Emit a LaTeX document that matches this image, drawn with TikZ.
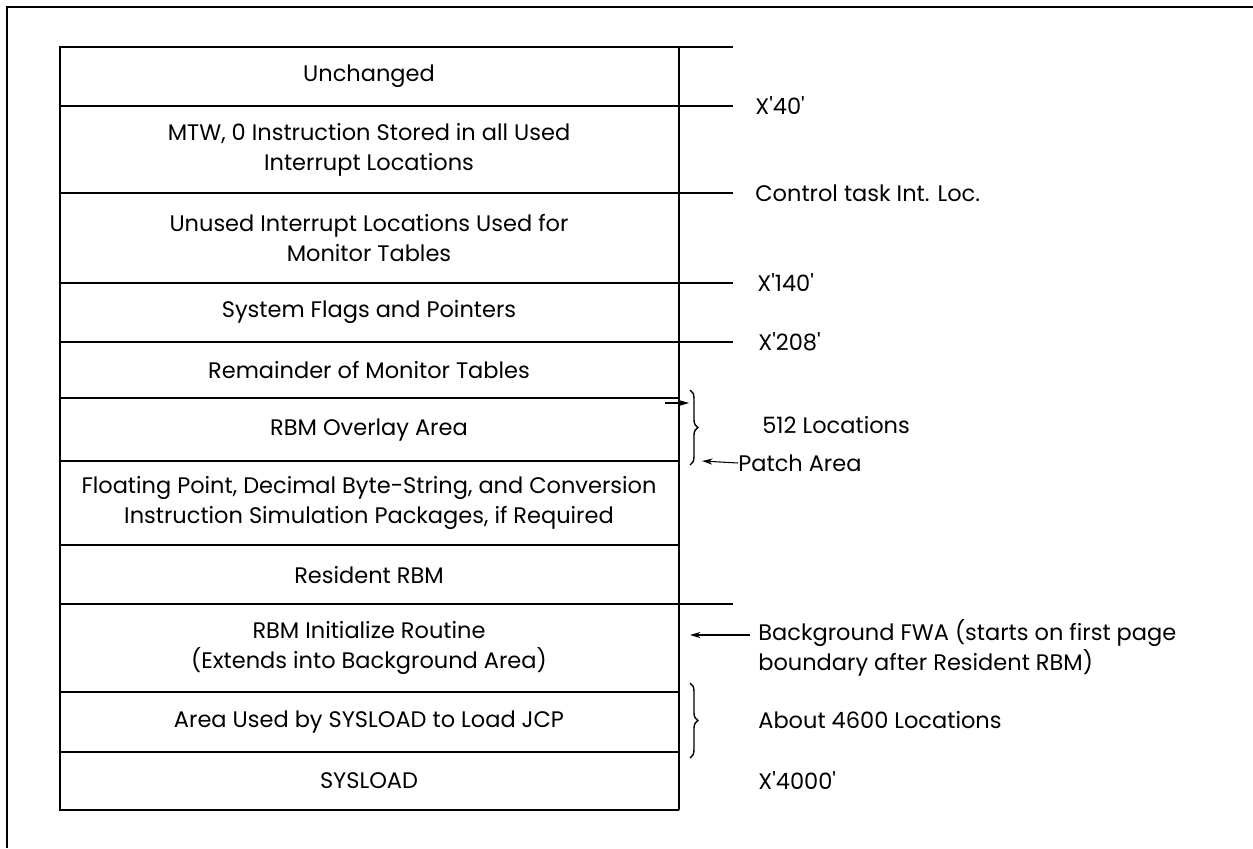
\documentclass[tikz,border=0pt]{standalone}
\usepackage{fontspec}
\setmainfont{Poppins}
\usepackage{tikz}
\usetikzlibrary{arrows.meta,decorations.pathreplacing}

\begin{document}
\begin{tikzpicture}[
    x=0.02cm, y=-0.02cm,
    every node/.style={font=\fontsize{12.8}{17}\selectfont},
    row/.style={
        align=center,
        inner sep=0pt
    },
    memo/.style={
        anchor=west,
        align=left,
        inner sep=0pt
    },
    frame/.style={line width=1.7pt},
    edge/.style={line width=1.3pt},
    rule/.style={line width=0.7pt},
    arrow/.style={-{Stealth[length=6pt,width=3.5pt]}, line width=0.6pt},
    curly/.style={decorate, decoration={brace, amplitude=4.5pt}, line width=0.8pt}
]
\useasboundingbox (0,0) rectangle (1253,848);

% Frame
\draw[frame] (7,848) -- (7,7) -- (1253,7);

% Memory map
\draw[edge] (733,47) -- (60,47) -- (60,810) -- (679,810);
\draw[rule, line width=1pt] (679,47) -- (679,810);
\foreach \y in {106,193,283,342,398,461,545,604,692,752}
    \draw[rule] (60,\y) -- (679,\y);
\foreach \y in {106,193,283,342,604}
    \draw[rule] (679,\y) -- (733,\y);

% Nodes
\node[row] (unchanged) at (369,76) {Unchanged};
\node[row] (mtw) at (369,150) {MTW, 0 Instruction Stored in all Used\\Interrupt Locations};
\node[row] (unused) at (369,238) {Unused Interrupt Locations Used for\\Monitor Tables};
\node[row] (flags) at (369,312) {System Flags and Pointers};
\node[row] (remainder) at (369,370) {Remainder of Monitor Tables};
\node[row] (overlay) at (369,430) {RBM Overlay Area};
\node[row] (floating) at (369,503) {Floating Point, Decimal Byte-String, and Conversion\\Instruction Simulation Packages, if Required};
\node[row] (resident) at (369,575) {Resident RBM};
\node[row] (init) at (369,648) {RBM Initialize Routine\\(Extends into Background Area)};
\node[row] (jcp) at (369,722) {Area Used by SYSLOAD to Load JCP};
\node[row] (sysload) at (369,781) {SYSLOAD};

\node[memo] (x40) at (755,106) {X\textquotesingle 40\textquotesingle};
\node[memo] (ctl) at (755,193) {Control task Int. Loc.};
\node[memo] (x140) at (757,283) {X\textquotesingle 140\textquotesingle};
\node[memo] (x208) at (758,342) {X\textquotesingle 208\textquotesingle};
\node[memo] (loc512) at (762,425) {512 Locations};
\node[memo] (patch) at (738,463) {Patch Area};
\node[memo] (fwa) at (758,648) {Background FWA (starts on first page\\boundary after Resident RBM)};
\node[memo] (loc4600) at (758,720) {About 4600 Locations};
\node[memo] (x4000) at (758,781) {X\textquotesingle 4000\textquotesingle};

\coordinate (ovltail) at (665,403);
\coordinate (ovltip) at (689,403);
\coordinate (patchtip) at (702,461);
\coordinate (fwatail) at (750,635);
\coordinate (fwatip) at (690,635);

% Braces
\draw[curly] (690,390) -- (690,465);
\draw[curly] (690,683) -- (690,758);

% Arrows
\draw[arrow] (ovltail) -- (ovltip);
\draw[arrow] (patch.west) -- (patchtip);
\draw[arrow] (fwatail) -- (fwatip);

\end{tikzpicture}
\end{document}
